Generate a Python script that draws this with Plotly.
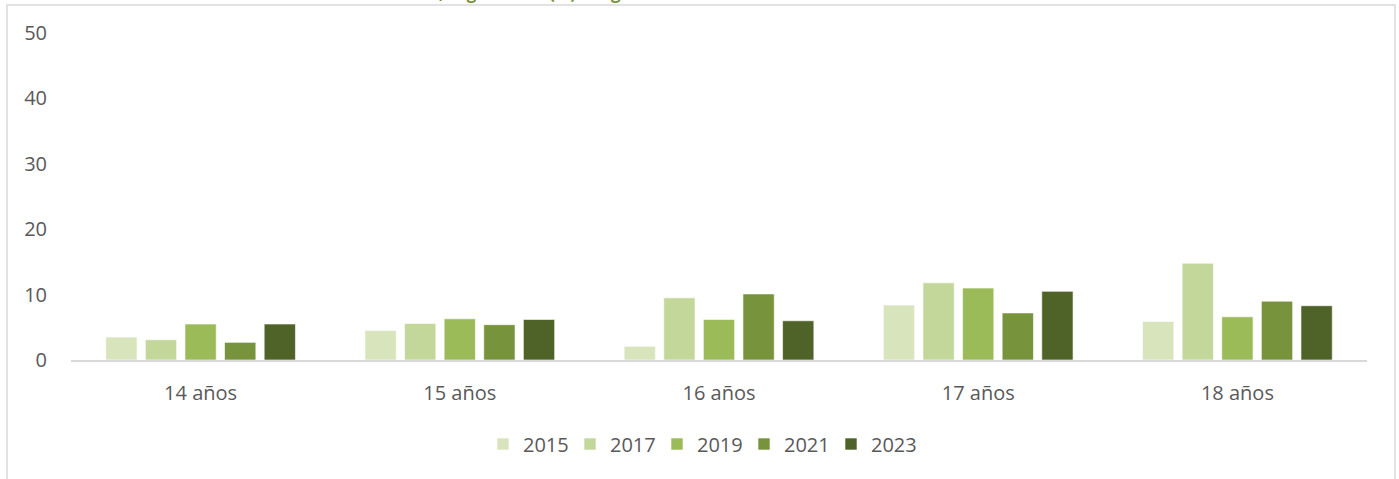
import plotly.graph_objects as go

categories = ["14 años", "15 años", "16 años", "17 años", "18 años"]
years = ["2015", "2017", "2019", "2021", "2023"]
v2015 = [3.5, 4.5, 2.1, 8.4, 5.9]
v2017 = [3.1, 5.6, 9.5, 11.8, 14.8]
v2019 = [5.5, 6.3, 6.2, 11.0, 6.6]
v2021 = [2.7, 5.4, 10.1, 7.2, 9.0]
v2023 = [5.5, 6.2, 6.0, 10.5, 8.3]
series = [v2015, v2017, v2019, v2021, v2023]
colors = ["#D8E4BC", "#C4D79B", "#9BBB59", "#77933C", "#4F6228"]
y_ticks = [0, 10, 20, 30, 40, 50]
title_text = "Prevalencia de consumo, según edad (%) del género"

FONT = "Open Sans"
TXT = "#595959"

fig = go.Figure()
for name, vals, col in zip(years, series, colors):
    fig.add_trace(go.Bar(
        x=categories, y=vals, name=name,
        marker=dict(color=col, line=dict(color="rgba(255,255,255,0.6)", width=1)),
    ))

W, H = 1399, 479
ml, mr, mt, mb = 71, 32, 33, 119
pw = W - ml - mr
ph = H - mt - mb

def px_x(p):
    return (p - ml) / pw

def px_y(p):
    return (H - mb - p) / ph

fig.update_layout(
    width=W, height=H,
    margin=dict(l=ml, r=mr, t=mt, b=mb, pad=0),
    paper_bgcolor="white", plot_bgcolor="white",
    barmode="group", bargap=0.236, bargroupgap=0.21,
    font=dict(family=FONT, size=20, color=TXT),
    showlegend=True,
    legend=dict(orientation="h", x=px_x(700.5), xanchor="center", y=px_y(444), yanchor="middle",
                font=dict(family=FONT, size=20, color=TXT), traceorder="normal",
                entrywidth=42, itemclick=False),
    xaxis=dict(showline=True, linecolor="#D9D9D9", linewidth=1.5, ticks="",
               showgrid=False, zeroline=False, ticklabelstandoff=14,
               tickfont=dict(family=FONT, size=20, color=TXT)),
    yaxis=dict(range=[0, 50], tickvals=y_ticks, showgrid=False, zeroline=False,
               showline=False, ticks="", ticklabelstandoff=23,
               tickfont=dict(family=FONT, size=20, color=TXT)),
    shapes=[dict(type="rect", xref="paper", yref="paper",
                 x0=px_x(7), x1=px_x(1395), y0=px_y(560), y1=px_y(5),
                 line=dict(color="#D9D9D9", width=1.5), fillcolor="rgba(0,0,0,0)",
                 layer="below")],
    annotations=[dict(text=title_text, xref="paper", yref="paper",
                      x=px_x(231), xanchor="left", y=px_y(5.5), yanchor="bottom",
                      showarrow=False,
                      font=dict(family=FONT, size=17, color="#77933C", weight="bold"))],
)

fig.write_html("out.html", config={"displayModeBar": False},
               post_script="document.body.style.margin='0';document.body.style.overflow='hidden';")
